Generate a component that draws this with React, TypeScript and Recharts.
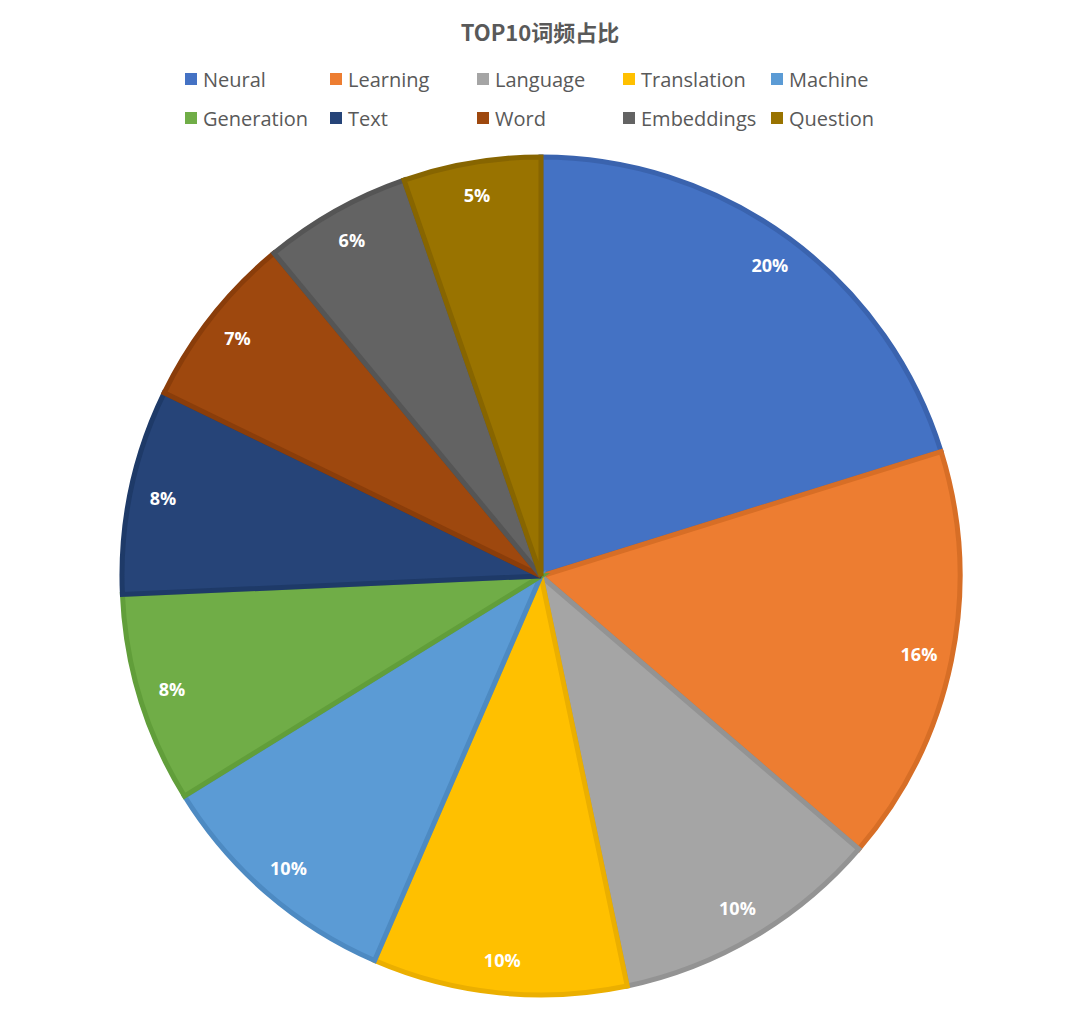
import React from "react";
import { PieChart, Pie, Cell } from "recharts";

const categories = ["Neural", "Learning", "Language", "Translation", "Machine", "Generation", "Text", "Word", "Embeddings", "Question"];
const values = [20.2, 16.1, 10.4, 9.8, 9.7, 8.1, 7.9, 6.8, 5.7, 5.3];
const fills = ["#4472C4", "#ED7D31", "#A5A5A5", "#FFC000", "#5B9BD5", "#70AD47", "#264478", "#9E480E", "#636363", "#997300"];
const strokes = ["#3A63AE", "#D76E26", "#939393", "#EBAF00", "#4D8AC2", "#619E3A", "#1E3A68", "#8A3D0A", "#555555", "#876500"];

const data = categories.map((name, i) => ({ name, value: values[i] }));
const total = values.reduce((a, b) => a + b, 0);

const RAD = Math.PI / 180;

const renderLabel = (props: any) => {
  const { cx, cy, midAngle, outerRadius, value } = props;
  const r = outerRadius - 33;
  const x = cx + r * Math.cos(-midAngle * RAD);
  const y = cy + r * Math.sin(-midAngle * RAD);
  return (
    <text
      x={x}
      y={y}
      fill="#FFFFFF"
      textAnchor="middle"
      dominantBaseline="central"
      style={{ fontFamily: "'Open Sans', 'Noto Sans', sans-serif", fontWeight: 700, fontSize: 18 }}
    >
      {`${Math.round((value / total) * 100)}%`}
    </text>
  );
};

const colLeft = [185, 330, 477, 623, 771];

export default function App() {
  return (
    <div style={{ position: "absolute", left: 0, top: 0, width: 1080, height: 1014, background: "#FFFFFF" }}>
      <div
        style={{
          position: "absolute",
          top: 15,
          left: 0,
          width: 1080,
          textAlign: "center",
          fontFamily: "'Noto Sans CJK SC', 'Noto Sans', sans-serif",
          fontWeight: 700,
          fontSize: 22,
          color: "#595959",
          lineHeight: "32px",
        }}
      >
        TOP10词频占比
      </div>
      <div style={{ position: "absolute", top: 66, left: 0, width: 1080, height: 80 }}>
        {categories.map((name, i) => {
          const row = Math.floor(i / 5);
          const col = i % 5;
          return (
            <div
              key={name}
              style={{
                position: "absolute",
                left: colLeft[col],
                top: row * 39,
                height: 26,
                display: "flex",
                alignItems: "center",
                fontFamily: "'Open Sans', 'Noto Sans', sans-serif",
                fontSize: 20,
                color: "#595959",
                whiteSpace: "nowrap",
              }}
            >
              <span style={{ display: "inline-block", width: 12, height: 12, background: fills[i], marginRight: 6 }} />
              {name}
            </div>
          );
        })}
      </div>
      <div style={{ position: "absolute", left: 0, top: 0, width: 1080, height: 1014 }}>
        <PieChart width={1080} height={1014} margin={{ top: 0, right: 0, bottom: 0, left: 0 }}>
          <Pie
            data={data}
            dataKey="value"
            nameKey="name"
            cx={541}
            cy={576}
            outerRadius={419}
            startAngle={90}
            endAngle={-270}
            label={renderLabel}
            labelLine={false}
            isAnimationActive={false}
          >
            {data.map((d, i) => (
              <Cell key={d.name} fill={fills[i]} stroke={strokes[i]} strokeWidth={5} />
            ))}
          </Pie>
        </PieChart>
      </div>
    </div>
  );
}
